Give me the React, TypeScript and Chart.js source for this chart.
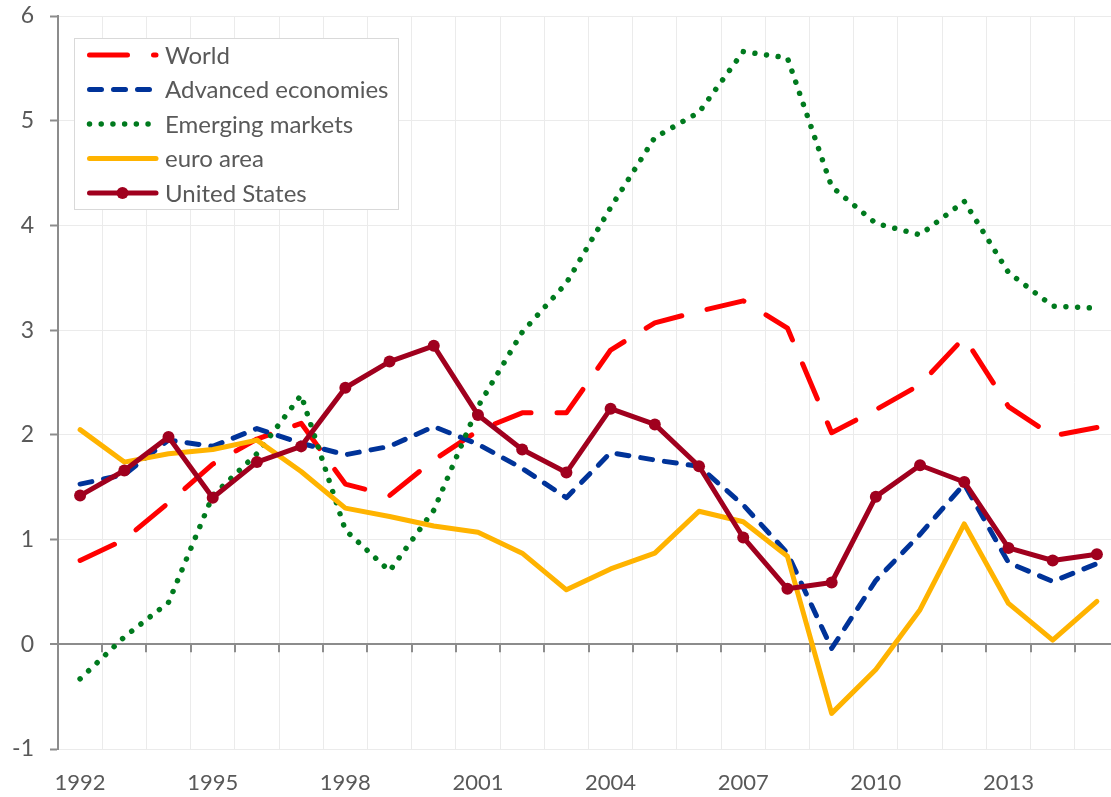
import React, { useEffect, useRef } from 'react';
import { Chart, registerables } from 'chart.js';

Chart.register(...registerables);

const years = [
  '1992', '1993', '1994', '1995', '1996', '1997', '1998', '1999', '2000', '2001', '2002', '2003',
  '2004', '2005', '2006', '2007', '2008', '2009', '2010', '2011', '2012', '2013', '2014', '2015',
];

const world = [0.80, 1.00, 1.35, 1.72, 1.96, 2.11, 1.53, 1.42, 1.76, 2.04, 2.21, 2.21, 2.81, 3.07, 3.18, 3.28, 3.02, 2.02, 2.24, 2.48, 2.93, 2.27, 1.99, 2.07];
const advanced = [1.53, 1.62, 1.95, 1.89, 2.06, 1.92, 1.81, 1.89, 2.08, 1.91, 1.68, 1.40, 1.83, 1.76, 1.70, 1.33, 0.87, -0.04, 0.61, 1.05, 1.53, 0.78, 0.60, 0.77];
const emerging = [-0.33, 0.07, 0.40, 1.42, 1.82, 2.38, 1.09, 0.70, 1.28, 2.27, 2.98, 3.45, 4.17, 4.84, 5.08, 5.66, 5.60, 4.37, 4.02, 3.91, 4.23, 3.55, 3.23, 3.21];
const euroArea = [2.05, 1.74, 1.82, 1.86, 1.95, 1.65, 1.30, 1.22, 1.13, 1.07, 0.87, 0.52, 0.72, 0.87, 1.27, 1.17, 0.84, -0.66, -0.24, 0.33, 1.15, 0.39, 0.04, 0.41];
const unitedStates = [1.42, 1.66, 1.98, 1.40, 1.74, 1.89, 2.45, 2.70, 2.85, 2.19, 1.86, 1.64, 2.25, 2.10, 1.70, 1.02, 0.53, 0.59, 1.41, 1.71, 1.55, 0.92, 0.80, 0.86];

const seriesLabels = ['World', 'Advanced economies', 'Emerging markets', 'euro area', 'United States'];
const yMin = -1;
const yMax = 6;

const FONT = 'Lato, "Open Sans", sans-serif';
const TEXT_COLOR = '#595959';
const AXIS_COLOR = '#8c8c8c';
const GRID_COLOR = '#ebebeb';

const zeroTicksPlugin = {
  id: 'zeroTicks',
  beforeDatasetsDraw(chart: any) {
    const x = chart.scales.x;
    const y = chart.scales.y;
    const ctx = chart.ctx;
    const y0 = y.getPixelForValue(0);
    ctx.save();
    ctx.strokeStyle = AXIS_COLOR;
    ctx.lineWidth = 2;
    for (let i = 1; i < years.length; i++) {
      const px = Math.round((x.getPixelForValue(i - 1) + x.getPixelForValue(i)) / 2);
      ctx.beginPath();
      ctx.moveTo(px, y0);
      ctx.lineTo(px, y0 + 8);
      ctx.stroke();
    }
    ctx.restore();
  },
};

const boxLegendPlugin = {
  id: 'boxLegend',
  afterDatasetsDraw(chart: any) {
    const ctx = chart.ctx;
    ctx.save();
    const bx = 74, by = 38, bw = 324, bh = 171;
    ctx.fillStyle = '#ffffff';
    ctx.fillRect(bx, by, bw, bh);
    ctx.strokeStyle = '#d9d9d9';
    ctx.lineWidth = 1;
    ctx.strokeRect(bx + 0.5, by + 0.5, bw, bh);
    chart.data.datasets.forEach((ds: any, i: number) => {
      const y = 55 + i * 34.5;
      ctx.beginPath();
      ctx.strokeStyle = ds.borderColor;
      ctx.lineWidth = ds.borderWidth;
      ctx.setLineDash(ds.borderDash || []);
      ctx.lineCap = ds.borderCapStyle || 'butt';
      ctx.moveTo(89.5, y);
      ctx.lineTo(156, y);
      ctx.stroke();
      ctx.setLineDash([]);
      if (ds.pointRadius > 0) {
        ctx.beginPath();
        ctx.fillStyle = ds.pointBackgroundColor;
        ctx.arc(122.5, y, ds.pointRadius, 0, Math.PI * 2);
        ctx.fill();
      }
      ctx.fillStyle = TEXT_COLOR;
      ctx.font = `24px ${FONT}`;
      ctx.textBaseline = 'middle';
      ctx.textAlign = 'left';
      ctx.fillText(ds.label, 165, y + 1);
    });
    ctx.restore();
  },
};

export default function App() {
  const ref = useRef<HTMLCanvasElement>(null);

  useEffect(() => {
    const canvas = ref.current;
    if (!canvas) return;
    const chart = new Chart(canvas, {
      type: 'line',
      data: {
        labels: years,
        datasets: [
          {
            label: seriesLabels[0],
            data: world,
            borderColor: '#ff0000',
            backgroundColor: '#ff0000',
            borderWidth: 5,
            borderDash: [38, 26],
            borderCapStyle: 'round',
            borderJoinStyle: 'round',
            pointRadius: 0,
            tension: 0,
            order: 5,
          },
          {
            label: seriesLabels[1],
            data: advanced,
            borderColor: '#003399',
            backgroundColor: '#003399',
            borderWidth: 5,
            borderDash: [12, 12],
            borderCapStyle: 'round',
            borderJoinStyle: 'round',
            pointRadius: 0,
            tension: 0,
            order: 4,
          },
          {
            label: seriesLabels[2],
            data: emerging,
            borderColor: '#007a1e',
            backgroundColor: '#007a1e',
            borderWidth: 5.5,
            borderDash: [0.01, 11.7],
            borderCapStyle: 'round',
            borderJoinStyle: 'round',
            pointRadius: 0,
            tension: 0,
            order: 3,
          },
          {
            label: seriesLabels[3],
            data: euroArea,
            borderColor: '#ffb300',
            backgroundColor: '#ffb300',
            borderWidth: 5,
            borderCapStyle: 'round',
            borderJoinStyle: 'round',
            pointRadius: 0,
            tension: 0,
            order: 2,
          },
          {
            label: seriesLabels[4],
            data: unitedStates,
            borderColor: '#a0001e',
            backgroundColor: '#a0001e',
            pointBackgroundColor: '#a0001e',
            pointBorderColor: '#a0001e',
            borderWidth: 5,
            borderCapStyle: 'round',
            borderJoinStyle: 'round',
            pointRadius: 6,
            pointBorderWidth: 0,
            tension: 0,
            order: 1,
          },
        ] as any,
      },
      options: {
        animation: false,
        responsive: true,
        maintainAspectRatio: false,
        layout: { padding: { top: 16, left: 0, right: 0, bottom: 0 } },
        plugins: {
          legend: { display: false },
          title: { display: false },
          tooltip: { enabled: false },
        },
        scales: {
          x: {
            type: 'category',
            offset: true,
            grid: {
              offset: true,
              color: GRID_COLOR,
              lineWidth: 1,
              drawTicks: false,
            },
            border: { display: false },
            ticks: {
              autoSkip: false,
              maxRotation: 0,
              padding: 21,
              color: TEXT_COLOR,
              font: { family: FONT, size: 22 },
              callback: function (this: any, value: any, index: number) {
                return index % 3 === 0 ? this.getLabelForValue(value) : '';
              },
            },
            afterFit: (scale: any) => {
              scale.height = 48;
              scale.paddingLeft = 0;
              scale.paddingRight = 0;
            },
          },
          y: {
            type: 'linear',
            min: yMin,
            max: yMax,
            grid: {
              color: (c: any) => (c.tick && c.tick.value === 0 ? AXIS_COLOR : GRID_COLOR),
              lineWidth: (c: any) => (c.tick && c.tick.value === 0 ? 2 : 1),
              tickColor: AXIS_COLOR,
              tickLength: 8,
              tickWidth: 2,
            },
            border: { display: true, color: AXIS_COLOR, width: 2 },
            ticks: {
              stepSize: 1,
              padding: 16,
              color: TEXT_COLOR,
              font: { family: FONT, size: 23 },
            },
            afterFit: (scale: any) => {
              scale.width = 58;
              scale.paddingTop = 0;
              scale.paddingBottom = 0;
            },
          },
        },
      },
      plugins: [zeroTicksPlugin, boxLegendPlugin],
    });
    return () => chart.destroy();
  }, []);

  return (
    <div
      style={{
        position: 'fixed',
        left: 0,
        top: 0,
        width: 1111,
        height: 797,
        overflow: 'hidden',
        background: '#ffffff',
      }}
    >
      <div style={{ position: 'relative', width: 1125, height: 797 }}>
        <canvas ref={ref} />
      </div>
    </div>
  );
}
